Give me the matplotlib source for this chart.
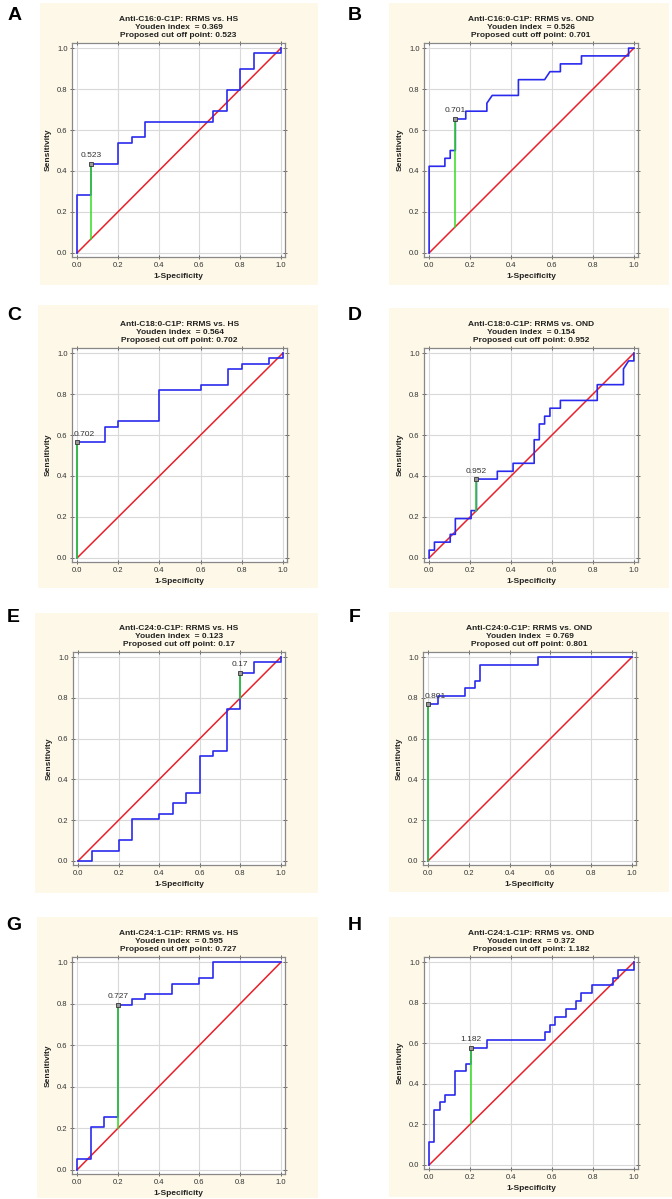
"""
ROC curves for anti-C1P antibodies, RRMS vs HS / OND
"""

import matplotlib
matplotlib.use('Agg')
import matplotlib.pyplot as plt
from matplotlib.patches import Rectangle

plt.rcParams['font.family'] = ['Liberation Sans', 'DejaVu Sans']

W, H = 672, 1199

# panel letters and titles
letters = ['A', 'B', 'C', 'D', 'E', 'F', 'G', 'H']
antigens = ['Anti-C16:0-C1P', 'Anti-C16:0-C1P', 'Anti-C18:0-C1P', 'Anti-C18:0-C1P',
            'Anti-C24:0-C1P', 'Anti-C24:0-C1P', 'Anti-C24:1-C1P', 'Anti-C24:1-C1P']
groups = ['RRMS vs. HS', 'RRMS vs. OND'] * 4
youden = ['0.369', '0.526', '0.564', '0.154', '0.123', '0.769', '0.595', '0.372']
cut_word = ['cut', 'cutt', 'cut', 'cut', 'cut', 'cut', 'cut', 'cut']
cutoffs = ['0.523', '0.701', '0.702', '0.952', '0.17', '0.801', '0.727', '1.182']

# ROC curve vertices (1-specificity, sensitivity)
fpr_a = [0, 0, 0.067, 0.067, 0.2, 0.2, 0.267, 0.267, 0.333, 0.333, 0.667, 0.667,
         0.733, 0.733, 0.8, 0.8, 0.867, 0.867, 1.0, 1.0]
tpr_a = [0, 0.282, 0.282, 0.436, 0.436, 0.538, 0.538, 0.564, 0.564, 0.641, 0.641, 0.692,
         0.692, 0.795, 0.795, 0.897, 0.897, 0.974, 0.974, 1.0]

fpr_b = [0, 0, 0.077, 0.077, 0.103, 0.103, 0.128, 0.128, 0.179, 0.179, 0.282, 0.282,
         0.308, 0.436, 0.436, 0.564, 0.590, 0.641, 0.641, 0.744, 0.744, 0.974, 0.974, 1.0]
tpr_b = [0, 0.423, 0.423, 0.462, 0.462, 0.5, 0.5, 0.654, 0.654, 0.692, 0.692, 0.731,
         0.769, 0.769, 0.846, 0.846, 0.885, 0.885, 0.923, 0.923, 0.962, 0.962, 1.0, 1.0]

fpr_c = [0, 0, 0.133, 0.133, 0.2, 0.2, 0.4, 0.4, 0.6, 0.6, 0.733, 0.733, 0.8, 0.8,
         0.933, 0.933, 1.0, 1.0]
tpr_c = [0, 0.564, 0.564, 0.641, 0.641, 0.667, 0.667, 0.821, 0.821, 0.846, 0.846, 0.923,
         0.923, 0.949, 0.949, 0.974, 0.974, 1.0]

fpr_d = [0, 0, 0.026, 0.026, 0.103, 0.103, 0.128, 0.128, 0.205, 0.205, 0.231, 0.231,
         0.333, 0.333, 0.410, 0.410, 0.513, 0.513, 0.538, 0.538, 0.564, 0.564, 0.590, 0.590,
         0.641, 0.641, 0.821, 0.821, 0.949, 0.949, 0.974, 1.0, 1.0]
tpr_d = [0, 0.038, 0.038, 0.077, 0.077, 0.115, 0.115, 0.192, 0.192, 0.231, 0.231, 0.385,
         0.385, 0.423, 0.423, 0.462, 0.462, 0.577, 0.577, 0.654, 0.654, 0.692, 0.692, 0.731,
         0.731, 0.769, 0.769, 0.846, 0.846, 0.923, 0.962, 0.962, 1.0]

fpr_e = [0, 0.067, 0.067, 0.2, 0.2, 0.267, 0.267, 0.4, 0.4, 0.467, 0.467, 0.533, 0.533,
         0.6, 0.6, 0.667, 0.667, 0.733, 0.733, 0.8, 0.8, 0.867, 0.867, 1.0, 1.0]
tpr_e = [0, 0, 0.051, 0.051, 0.103, 0.103, 0.205, 0.205, 0.231, 0.231, 0.282, 0.282, 0.333,
         0.333, 0.513, 0.513, 0.538, 0.538, 0.744, 0.744, 0.923, 0.923, 0.974, 0.974, 1.0]

fpr_f = [0, 0, 0.051, 0.051, 0.179, 0.179, 0.231, 0.231, 0.256, 0.256, 0.538, 0.538, 1.0]
tpr_f = [0, 0.769, 0.769, 0.808, 0.808, 0.846, 0.846, 0.885, 0.885, 0.962, 0.962, 1.0, 1.0]

fpr_g = [0, 0, 0.067, 0.067, 0.133, 0.133, 0.2, 0.2, 0.267, 0.267, 0.333, 0.333, 0.467,
         0.467, 0.6, 0.6, 0.667, 0.667, 1.0]
tpr_g = [0, 0.051, 0.051, 0.205, 0.205, 0.256, 0.256, 0.795, 0.795, 0.821, 0.821, 0.846,
         0.846, 0.897, 0.897, 0.923, 0.923, 1.0, 1.0]

fpr_h = [0, 0, 0.026, 0.026, 0.051, 0.051, 0.077, 0.077, 0.128, 0.128, 0.179, 0.179,
         0.205, 0.205, 0.282, 0.282, 0.564, 0.564, 0.590, 0.590, 0.615, 0.615, 0.667, 0.667,
         0.718, 0.718, 0.744, 0.744, 0.795, 0.795, 0.897, 0.897, 0.923, 0.923, 1.0, 1.0]
tpr_h = [0, 0.115, 0.115, 0.269, 0.269, 0.308, 0.308, 0.346, 0.346, 0.462, 0.462, 0.5,
         0.5, 0.577, 0.577, 0.615, 0.615, 0.654, 0.654, 0.692, 0.692, 0.731, 0.731, 0.769,
         0.769, 0.808, 0.808, 0.846, 0.846, 0.885, 0.885, 0.923, 0.923, 0.962, 0.962, 1.0]

fprs = [fpr_a, fpr_b, fpr_c, fpr_d, fpr_e, fpr_f, fpr_g, fpr_h]
tprs = [tpr_a, tpr_b, tpr_c, tpr_d, tpr_e, tpr_f, tpr_g, tpr_h]

# optimal cut off point (1-specificity, sensitivity)
cut_fpr = [0.067, 0.128, 0.0, 0.231, 0.8, 0.0, 0.2, 0.205]
cut_tpr = [0.436, 0.654, 0.564, 0.385, 0.923, 0.769, 0.795, 0.577]

# layout in pixels: cream box (l, t, r, b), axes box (l, t, r, b), letter pos
boxes = [(40, 3, 318, 285), (389, 3, 669, 285),
         (38, 305, 318, 588), (389, 308, 669, 588),
         (35, 613, 318, 893), (389, 612, 669, 892),
         (37, 917, 318, 1198), (389, 917, 672, 1197)]
axboxes = [(72, 43, 285, 257), (424, 43, 638, 257),
           (72, 348, 287, 562), (424, 348, 638, 562),
           (73, 652, 285, 865), (423, 652, 636, 865),
           (72, 957, 285, 1174), (424, 957, 638, 1169)]
letter_pos = [(15, 15), (355, 15), (14, 315), (355, 316),
              (13, 617), (355, 618), (14, 925), (355, 925)]
lab_ha = ['center', 'center', 'left', 'center', 'center', 'left', 'center', 'center']

fig = plt.figure(figsize=(W / 100, H / 100), dpi=100)
fig.patch.set_facecolor('white')

for i in range(8):
    l, t, r, b = boxes[i]
    fig.patches.append(Rectangle((l / W, 1 - b / H), (r - l) / W, (b - t) / H,
                                 transform=fig.transFigure, facecolor='#fdf8e7',
                                 edgecolor='none', zorder=-5))
    l, t, r, b = axboxes[i]
    ax = fig.add_axes([l / W, 1 - b / H, (r - l) / W, (b - t) / H])
    ax.set_facecolor('white')
    ax.plot([0, 1], [0, 1], color='#e8202a', lw=1.1, zorder=3)
    ax.plot(fprs[i], tprs[i], color='#2a2aee', lw=1.2, zorder=4)
    ax.plot([cut_fpr[i], cut_fpr[i]], [cut_fpr[i], cut_tpr[i]], color='#33dd22', lw=1.1, zorder=5)
    ax.plot(cut_fpr[i], cut_tpr[i], marker='s', ms=3, mfc='#9a9a9a', mec='#333333',
            mew=0.6, zorder=6, clip_on=False)
    dx = -0.015 if lab_ha[i] == 'left' else 0
    ax.text(cut_fpr[i] + dx, cut_tpr[i] + 0.022, cutoffs[i], fontsize=6, color='#333333',
            ha=lab_ha[i], va='bottom', zorder=7)

    ax.set_xlim(-0.025, 1.02)
    ax.set_ylim(-0.02, 1.025)
    ticks = [0, 0.2, 0.4, 0.6, 0.8, 1.0]
    ax.set_xticks(ticks)
    ax.set_yticks(ticks)
    ax.set_xticklabels(['%.1f' % v for v in ticks])
    ax.set_yticklabels(['%.1f' % v for v in ticks])
    ax.tick_params(labelsize=5.5, colors='#555555', labelcolor='#333333', length=2.5,
                   width=0.6, direction='inout', top=True, right=True, pad=2)
    ax.grid(True, color='#d9d9d9', lw=0.8)
    ax.set_axisbelow(True)
    for s in ax.spines.values():
        s.set_color('#888888')
        s.set_linewidth(0.9)

    ax.set_title('%s: %s\nYouden index  = %s\nProposed %s off point: %s'
                 % (antigens[i], groups[i], youden[i], cut_word[i], cutoffs[i]),
                 fontsize=6, fontweight='bold', color='#222222', pad=4, linespacing=1.25)
    ax.set_xlabel('1-Specificity', fontsize=6, fontweight='bold', color='#222222', labelpad=3)
    ax.set_ylabel('Sensitivity', fontsize=6, fontweight='bold', color='#222222', labelpad=4)

    x, y = letter_pos[i]
    fig.text(x / W, 1 - y / H, letters[i], fontsize=14, fontweight='bold',
             ha='center', va='center')

plt.savefig('out.png', dpi=100)
